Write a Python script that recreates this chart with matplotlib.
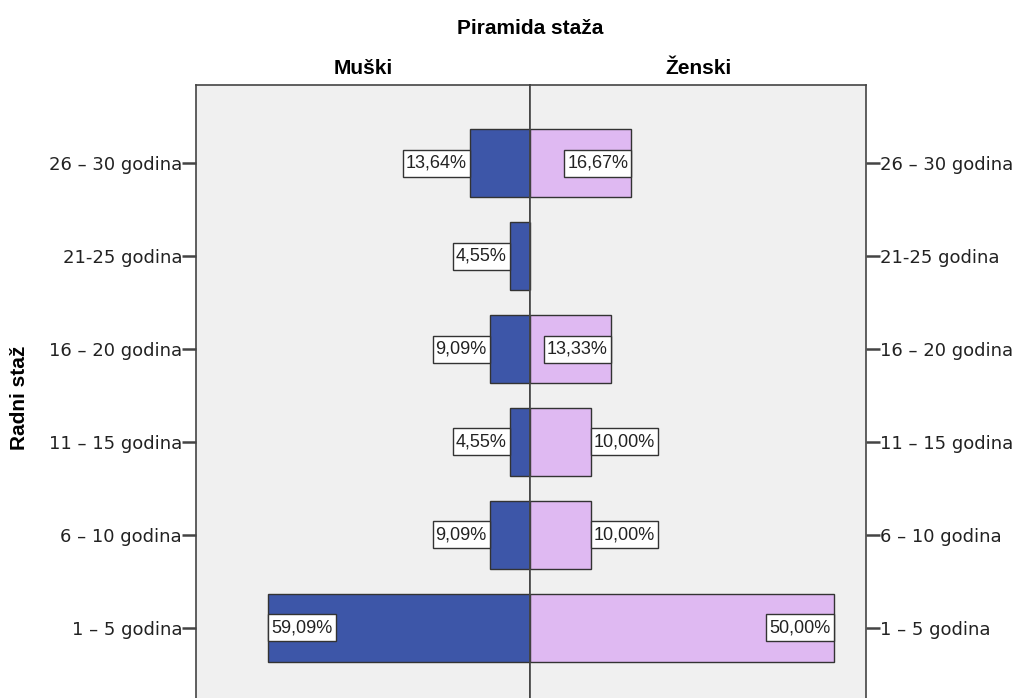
import matplotlib
matplotlib.use("Agg")
import matplotlib.pyplot as plt
from matplotlib.patches import Rectangle
from matplotlib.transforms import IdentityTransform

plt.rcParams['font.family'] = ['Liberation Sans', 'DejaVu Sans']

categories = ["1 – 5 godina", "6 – 10 godina", "11 – 15 godina",
              "16 – 20 godina", "21-25 godina", "26 – 30 godina"]
male_counts = [13, 2, 1, 2, 1, 3]
female_counts = [15, 3, 3, 4, 0, 5]
male_pct = ["59,09%", "9,09%", "4,55%", "9,09%", "4,55%", "13,64%"]
female_pct = ["50,00%", "10,00%", "10,00%", "13,33%", "", "16,67%"]
# label placement: True = inside the bar end, False = outside
male_inside = [True, False, False, False, False, False]
female_inside = [True, False, False, True, False, True]

title = "Piramida staža"
left_title = "Muški"
right_title = "Ženski"
ylabel = "Radni staž"

W, H = 1019, 698
fig = plt.figure(figsize=(W / 100, H / 100), dpi=100)
fig.patch.set_facecolor("white")

def fx(px):
    return px / W

def fy(py):
    return 1 - py / H

top_px, bot_px = 85, 706
axL = fig.add_axes([fx(196), fy(bot_px), fx(530 - 196), (bot_px - top_px) / H])
axR = fig.add_axes([fx(530), fy(bot_px), fx(866 - 530), (bot_px - top_px) / H])

blue = "#3d56a8"
lilac = "#dfb9f2"
edge = "#333333"
bg = "#f0f0f0"
xmax = 16.6
ypos = list(range(len(categories)))
pad_y = 0.84

for ax in (axL, axR):
    ax.set_facecolor(bg)
    ax.set_xlim(0, xmax)
    ax.set_ylim(-pad_y, len(categories) - 1 + pad_y)
    ax.set_xticks([])
    for s in ax.spines.values():
        s.set_color("#444444")
        s.set_linewidth(1.2)
axL.invert_xaxis()

axL.barh(ypos, male_counts, height=0.74, color=blue, edgecolor=edge, linewidth=1, zorder=2)
axR.barh(ypos, female_counts, height=0.74, color=lilac, edgecolor=edge, linewidth=1, zorder=2)

tick_font = dict(family=['DejaVu Sans'], size=13)
axL.set_yticks(ypos)
axL.set_yticklabels(categories, color="#222222", **tick_font)
axL.tick_params(axis="y", length=10, width=1.8, color="#444444", pad=0)
axR.yaxis.tick_right()
axR.set_yticks(ypos)
axR.set_yticklabels(categories, color="#222222", **tick_font)
axR.tick_params(axis="y", length=10, width=1.8, color="#444444", pad=0)

fig.text(fx(20), fy(398), ylabel, ha="center", va="center", rotation=90,
         fontsize=15, fontweight="bold")
fig.text(fx(530), fy(28), title, ha="center", va="center", fontsize=15, fontweight="bold")
fig.text(fx(363), fy(68), left_title, ha="center", va="center", fontsize=15, fontweight="bold")
fig.text(fx(698), fy(68), right_title, ha="center", va="center", fontsize=15, fontweight="bold")

texts = []
for y, v, lab, ins in zip(ypos, male_counts, male_pct, male_inside):
    if not lab:
        continue
    ha = "left" if ins else "right"
    t = axL.text(v, y, lab, ha=ha, va="center", fontsize=13, color="#222222", zorder=6)
    texts.append((axL, t, ha))
for y, v, lab, ins in zip(ypos, female_counts, female_pct, female_inside):
    if not lab:
        continue
    ha = "right" if ins else "left"
    t = axR.text(v, y, lab, ha=ha, va="center", fontsize=13, color="#222222", zorder=6)
    texts.append((axR, t, ha))

fig.canvas.draw()
renderer = fig.canvas.get_renderer()
hpad = 3
for ax, t, ha in texts:
    bb = t.get_window_extent(renderer)
    ox, oy = t.get_position()
    disp = t.get_transform().transform((ox, oy))
    shift = hpad if ha == "left" else -hpad
    t.set_position(t.get_transform().inverted().transform((disp[0] + shift, disp[1])))
    if ha == "left":
        x0, x1 = bb.x0, bb.x1 + 2 * hpad
    else:
        x0, x1 = bb.x0 - 2 * hpad, bb.x1
    cy = disp[1]
    rect = Rectangle((x0, cy - 13.5), x1 - x0, 27, transform=IdentityTransform(),
                     facecolor="white", edgecolor=edge, linewidth=1, zorder=4,
                     clip_on=False)
    ax.add_artist(rect)

fig.savefig("out.png", dpi=100, facecolor="white")
